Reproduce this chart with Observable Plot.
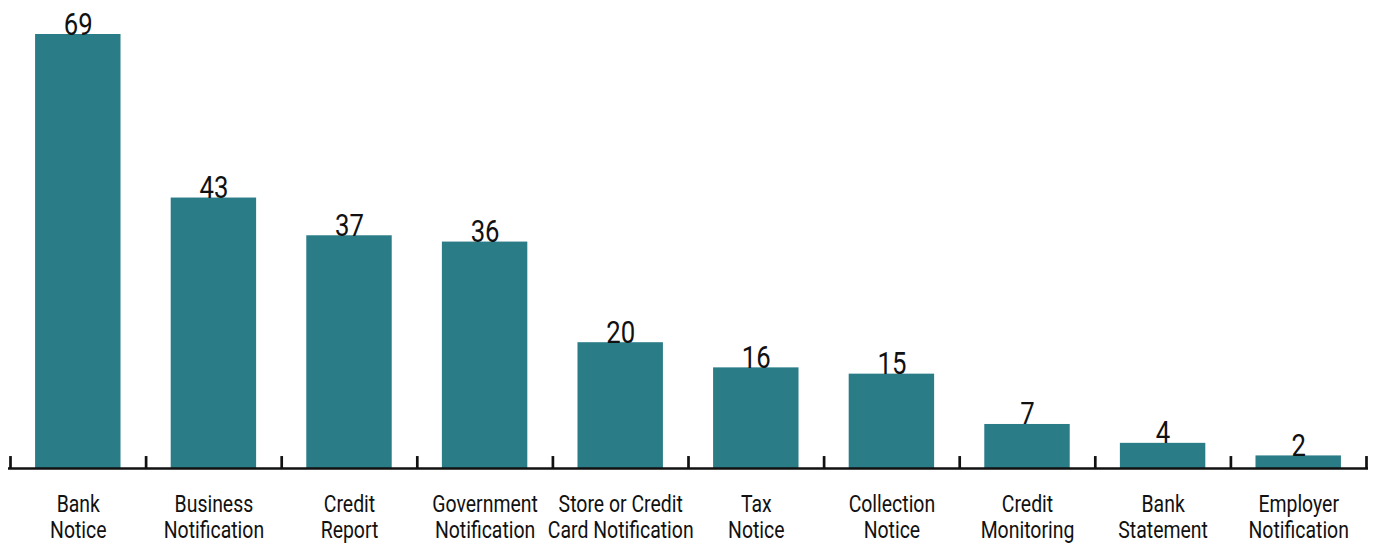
<!DOCTYPE html>
<html>
<head>
<meta charset="utf-8">
<script src="https://cdn.jsdelivr.net/npm/d3@7"></script>
<script src="https://cdn.jsdelivr.net/npm/@observablehq/plot@0.6"></script>
<style>
  body { margin: 0; background: #fff; }
  svg { display: block; }
</style>
</head>
<body>
<div id="chart"></div>
<script>
const categories = [
  "Bank\nNotice",
  "Business\nNotification",
  "Credit\nReport",
  "Government\nNotification",
  "Store or Credit\nCard Notification",
  "Tax\nNotice",
  "Collection\nNotice",
  "Credit\nMonitoring",
  "Bank\nStatement",
  "Employer\nNotification"
];
const values = [69, 43, 37, 36, 20, 16, 15, 7, 4, 2];

const data = categories.map((c, i) => ({category: c, value: values[i]}));

const W = 1376, H = 546, mL = 10, mR = 10;
const step = (W - mL - mR) / categories.length;
const font = "Roboto, 'DejaVu Sans', sans-serif";

const chart = Plot.plot({
  width: W,
  height: H,
  marginLeft: mL,
  marginRight: mR,
  marginTop: 34,
  marginBottom: 78,
  style: {fontFamily: font, color: "#111", background: "#fff"},
  x: {domain: categories, paddingInner: 0.37, paddingOuter: 0.185, round: false, label: null},
  y: {domain: [0, 69], axis: null},
  marks: [
    Plot.barY(data, {x: "category", y: "value", fill: "#2a7d87"}),
    Plot.ruleY([0], {stroke: "#111", strokeWidth: 2.7, insetLeft: -2, insetRight: -2}),
    Plot.ruleX(categories, {x: d => d, dx: -step / 2, y1: 0, y2: 1.9, stroke: "#111", strokeWidth: 2.7}),
    Plot.ruleX([categories[categories.length - 1]], {x: d => d, dx: step / 2, y1: 0, y2: 1.9, stroke: "#111", strokeWidth: 2.7}),
    Plot.text(data, {x: "category", y: "value", text: d => String(d.value), lineAnchor: "bottom", dy: 0, fontSize: 31, fill: "#111", className: "vlabel"}),
    Plot.axisX({tickSize: 0, tickPadding: 25, fontSize: 24, lineHeight: 1.08, label: null})
  ]
});
// condense the glyphs horizontally around each text's anchor
d3.select(chart).selectAll("text").each(function () {
  const t = this.getAttribute("transform");
  const isValue = this.closest(".vlabel") !== null;
  if (t) this.setAttribute("transform", t + (isValue ? " scale(0.83,1)" : " scale(0.81,1)"));
});
document.getElementById("chart").appendChild(chart);
</script>
</body>
</html>
